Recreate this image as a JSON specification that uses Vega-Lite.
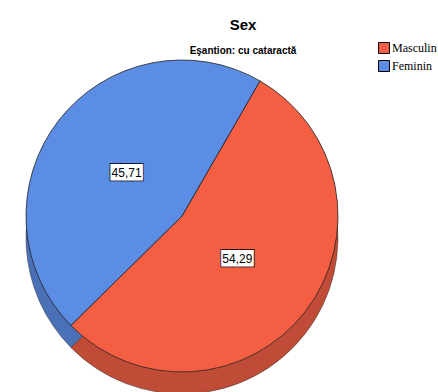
{
  "$schema": "https://vega.github.io/schema/vega-lite/v6.json",
  "width": 364,
  "height": 324,
  "autosize": {"type": "none"},
  "padding": {"left": 0, "top": 54, "right": 74, "bottom": 14},
  "background": "white",
  "config": {
    "view": {"stroke": null},
    "locale": {"number": {"decimal": ",", "thousands": ".", "grouping": [3], "currency": ["", ""]}}
  },
  "title": {
    "text": "Sex",
    "subtitle": "Eşantion: cu cataractă",
    "font": "Liberation Sans",
    "fontSize": 15,
    "fontWeight": "bold",
    "color": "black",
    "subtitleFont": "Liberation Sans",
    "subtitleFontSize": 10,
    "subtitleFontWeight": "bold",
    "subtitleColor": "black",
    "anchor": "middle",
    "frame": "group",
    "dx": 61,
    "offset": -14,
    "subtitlePadding": 13
  },
  "data": {
    "values": [
      {"sex": "Masculin", "pct": 54.29},
      {"sex": "Feminin", "pct": 45.71}
    ]
  },
  "encoding": {
    "theta": {"field": "pct", "type": "quantitative", "stack": true, "scale": {"range": [0.5236, 6.8068]}},
    "order": {"field": "pct", "sort": "descending"}
  },
  "layer": [
    {
      "mark": {"type": "arc", "outerRadius": 156, "yOffset": 22, "stroke": "#333", "strokeWidth": 0.5},
      "encoding": {
        "fill": {"condition": {"test": "datum.sex === 'Masculin'", "value": "#C04C37"}, "value": "#4A71B8"}
      }
    },
    {
      "mark": {"type": "arc", "outerRadius": 156, "stroke": "#222", "strokeWidth": 0.8},
      "encoding": {
        "color": {
          "field": "sex",
          "type": "nominal",
          "scale": {"domain": ["Masculin", "Feminin"], "range": ["#F45F44", "#5B8DE4"]},
          "legend": {
            "orient": "none",
            "legendX": 378,
            "legendY": -12,
            "title": null,
            "symbolType": "square",
            "symbolSize": 121,
            "symbolStrokeColor": "black",
            "symbolStrokeWidth": 1,
            "symbolOpacity": 1,
            "labelFont": "Liberation Serif",
            "labelFontSize": 12,
            "labelColor": "black",
            "rowPadding": 2,
            "labelOffset": 2
          }
        }
      }
    },
    {
      "mark": {"type": "text", "radius": 70, "text": "███", "font": "DejaVu Sans", "fontSize": 14, "fill": "white", "stroke": "black", "strokeWidth": 1.5, "baseline": "middle", "align": "center"}
    },
    {
      "mark": {"type": "text", "radius": 70, "text": "███", "font": "DejaVu Sans", "fontSize": 14, "fill": "white", "baseline": "middle", "align": "center"}
    },
    {
      "mark": {"type": "text", "radius": 70, "font": "Liberation Sans", "fontSize": 12, "color": "black", "baseline": "middle", "align": "center"},
      "encoding": {"text": {"field": "pct", "type": "quantitative", "format": ".2f"}}
    }
  ]
}
